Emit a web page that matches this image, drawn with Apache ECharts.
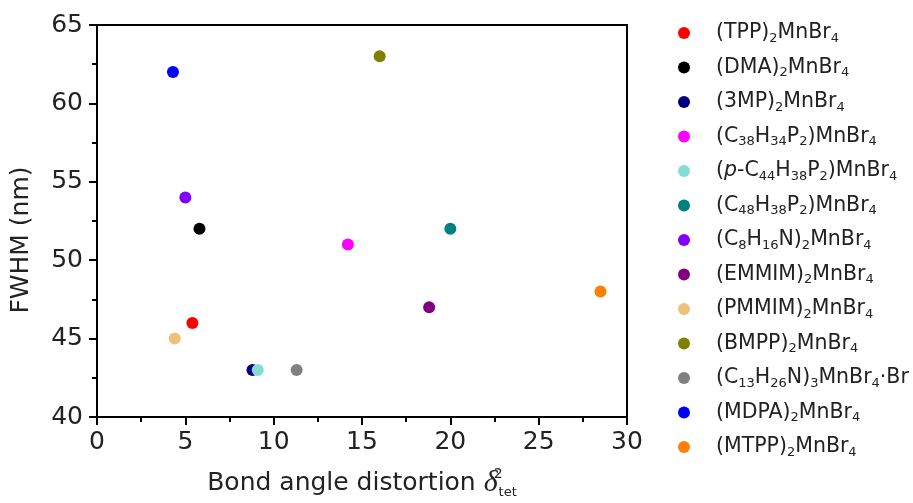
<!DOCTYPE html>
<html>
<head>
<meta charset="utf-8">
<script src="https://cdn.jsdelivr.net/npm/echarts@6/dist/echarts.min.js"></script>
<style>
  html, body { margin: 0; padding: 0; background: #fff; }
  #main { width: 913px; height: 503px; }
</style>
</head>
<body>
<div id="main"></div>
<script>
// compounds, in legend order
var names = [
  '(TPP)2MnBr4', '(DMA)2MnBr4', '(3MP)2MnBr4', '(C38H34P2)MnBr4',
  '(p-C44H38P2)MnBr4', '(C48H38P2)MnBr4', '(C8H16N)2MnBr4', '(EMMIM)2MnBr4',
  '(PMMIM)2MnBr4', '(BMPP)2MnBr4', '(C13H26N)3MnBr4·Br', '(MDPA)2MnBr4', '(MTPP)2MnBr4'
];
// rich text version of the names (subscripts)
var labels = [
  '(TPP){s|2}MnBr{s|4}', '(DMA){s|2}MnBr{s|4}', '(3MP){s|2}MnBr{s|4}',
  '(C{s|38}H{s|34}P{s|2})MnBr{s|4}', '({i|p}-C{s|44}H{s|38}P{s|2})MnBr{s|4}',
  '(C{s|48}H{s|38}P{s|2})MnBr{s|4}', '(C{s|8}H{s|16}N){s|2}MnBr{s|4}',
  '(EMMIM){s|2}MnBr{s|4}', '(PMMIM){s|2}MnBr{s|4}', '(BMPP){s|2}MnBr{s|4}',
  '(C{s|13}H{s|26}N){s|3}MnBr{s|4}·Br', '(MDPA){s|2}MnBr{s|4}', '(MTPP){s|2}MnBr{s|4}'
];
// bond angle distortion
var distortion = [5.4, 5.8, 8.8, 14.2, 9.1, 20.0, 5.0, 18.8, 4.4, 16.0, 11.3, 4.3, 28.5];
// FWHM (nm)
var fwhm = [46, 52, 43, 51, 43, 52, 54, 47, 45, 63, 43, 62, 48];
var colors = ['#ff0000', '#000000', '#000080', '#ff00ff', '#86dbd5', '#008080', '#7f00ff',
  '#800080', '#eec07a', '#808000', '#808080', '#0000ff', '#ff8000'];

var xTicks = [0, 5, 10, 15, 20, 25, 30];
var yTicks = [40, 45, 50, 55, 60, 65];

var myChart = echarts.init(document.getElementById('main'));

var font = 'DejaVu Sans';

var series = names.map(function (n, i) {
  return {
    name: n,
    type: 'scatter',
    symbol: 'circle',
    symbolSize: 12,
    itemStyle: { color: colors[i], opacity: 1 },
    data: [[distortion[i], fwhm[i]]]
  };
});

var option = {
  animation: false,
  backgroundColor: '#fff',
  textStyle: { fontFamily: font },
  grid: {
    left: 97, right: 286, top: 25, bottom: 86,
    outerBoundsMode: 'none',
    containLabel: false,
    show: true, borderColor: '#000', borderWidth: 2, backgroundColor: 'transparent'
  },
  legend: {
    orient: 'vertical',
    left: 678, top: 21,
    padding: 0,
    itemWidth: 54, itemHeight: 12,
    itemGap: 10.5,
    icon: 'circle',
    data: names,
    formatter: function (n) { return labels[names.indexOf(n)]; },
    textStyle: {
      fontFamily: font, fontSize: 20.5, color: '#222', lineHeight: 24,
      rich: {
        s: { fontFamily: font, fontSize: 13, color: '#222', lineHeight: 24, verticalAlign: 'bottom' },
        i: { fontFamily: font, fontSize: 20.5, color: '#222', lineHeight: 24, fontStyle: 'italic' }
      }
    }
  },
  xAxis: {
    type: 'value',
    min: xTicks[0], max: xTicks[xTicks.length - 1], interval: 5,
    name: 'Bond angle distortion {d|δ}{p|2}{t|tet}',
    nameLocation: 'middle',
    nameGap: 50,
    nameTextStyle: {
      fontFamily: font, fontSize: 25, color: '#222', lineHeight: 32,
      rich: {
        d: { fontFamily: 'Liberation Serif', fontStyle: 'italic', fontSize: 30, color: '#222', lineHeight: 32 },
        p: { fontFamily: font, fontSize: 14, color: '#222', lineHeight: 32, verticalAlign: 'top', width: 1 },
        t: { fontFamily: font, fontSize: 13, color: '#222', lineHeight: 32, verticalAlign: 'bottom', padding: [14, 0, 0, 0] }
      }
    },
    axisLine: { lineStyle: { color: '#000', width: 2 } },
    axisTick: { show: true, inside: false, length: 8, lineStyle: { color: '#000', width: 2 } },
    minorTick: { show: true, splitNumber: 2, length: 5, lineStyle: { color: '#000', width: 2 } },
    axisLabel: { fontFamily: font, fontSize: 25, color: '#222', margin: 13 },
    splitLine: { show: false }
  },
  yAxis: {
    type: 'value',
    min: yTicks[0], max: yTicks[yTicks.length - 1], interval: 5,
    name: 'FWHM (nm)',
    nameLocation: 'middle',
    nameRotate: 90,
    nameGap: 63,
    nameTextStyle: { fontFamily: font, fontSize: 25, color: '#222', padding: [0, 38, 0, 0] },
    axisLine: { lineStyle: { color: '#000', width: 2 } },
    axisTick: { show: true, inside: false, length: 8, lineStyle: { color: '#000', width: 2 } },
    minorTick: { show: true, splitNumber: 2, length: 5, lineStyle: { color: '#000', width: 2 } },
    axisLabel: { fontFamily: font, fontSize: 25, color: '#222', margin: 14 },
    splitLine: { show: false }
  },
  series: series
};

myChart.setOption(option);
</script>
</body>
</html>
